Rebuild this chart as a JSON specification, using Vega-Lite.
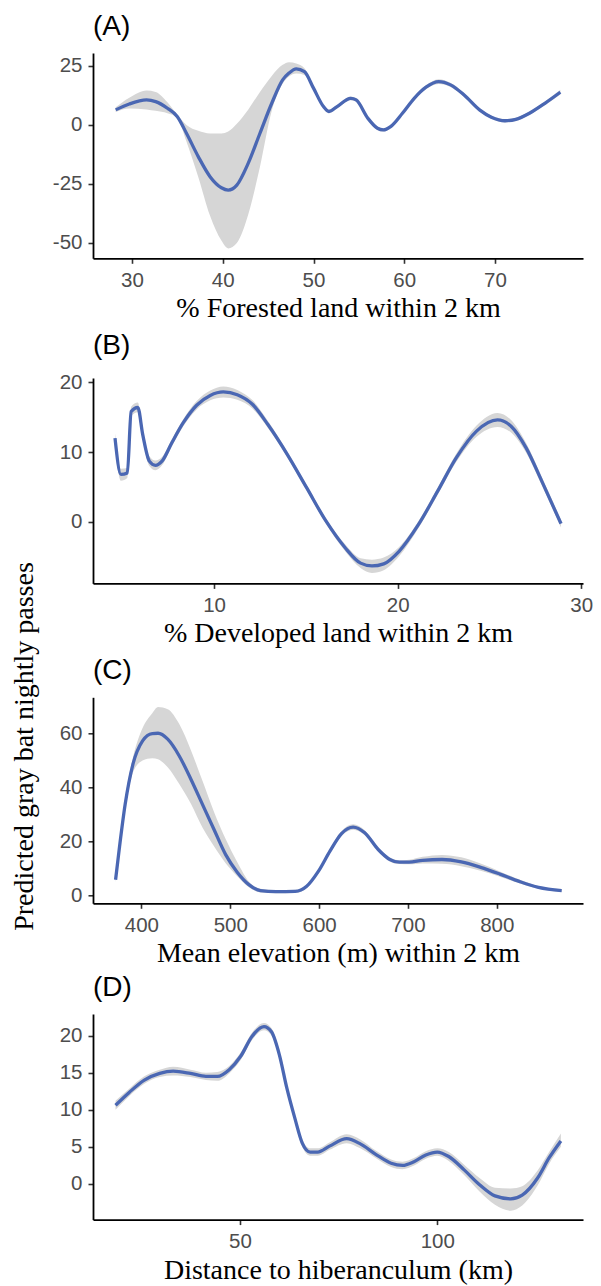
{
  "$schema": "https://vega.github.io/schema/vega-lite/v6.json",
  "background": "white",
  "padding": {"left": 10, "top": 13, "right": 5, "bottom": 5},
  "bounds": "flush",
  "spacing": 119,
  "config": {
    "view": {"stroke": null},
    "axis": {
      "grid": false,
      "domainColor": "black",
      "domainWidth": 1.8,
      "tickColor": "#333333",
      "tickWidth": 1.6,
      "tickSize": 5,
      "labelFont": "Liberation Sans",
      "labelFontSize": 20.5,
      "labelColor": "#4D4D4D",
      "labelFlush": false,
      "labelOverlap": false,
      "labelBound": false,
      "labelExpr": "'' + datum.value",
      "titleFont": "Liberation Serif",
      "titleFontSize": 28,
      "titleFontWeight": "normal",
      "titleColor": "black"
    },
    "axisX": {"labelPadding": 7, "titlePadding": 4},
    "axisY": {"labelPadding": 6},
    "title": {
      "anchor": "start",
      "frame": "group",
      "font": "Liberation Sans",
      "fontSize": 28,
      "fontWeight": "normal",
      "color": "black",
      "baseline": "bottom",
      "offset": 12
    }
  },
  "datasets": {
    "A": [
      {"x": 28.2, "fit": 6.4, "lo": 5.5, "hi": 7.5},
      {"x": 29.7, "fit": 8.9, "lo": 7.0, "hi": 11.5},
      {"x": 31.6, "fit": 10.6, "lo": 6.6, "hi": 14.6},
      {"x": 32.6, "fit": 9.9, "lo": 6.0, "hi": 14.0},
      {"x": 33.9, "fit": 7.1, "lo": 5.0, "hi": 9.6},
      {"x": 35.0, "fit": 3.5, "lo": 3.0, "hi": 4.2},
      {"x": 36.0, "fit": -3.5, "lo": -7.0, "hi": 0.0},
      {"x": 37.3, "fit": -13.4, "lo": -22.0, "hi": -2.5},
      {"x": 38.6, "fit": -21.9, "lo": -38.5, "hi": -3.6},
      {"x": 39.85, "fit": -26.6, "lo": -49.0, "hi": -3.6},
      {"x": 40.6, "fit": -27.6, "lo": -52.3, "hi": -2.8},
      {"x": 41.55, "fit": -25.5, "lo": -50.0, "hi": 0.5},
      {"x": 42.8, "fit": -16.3, "lo": -38.0, "hi": 6.5},
      {"x": 44.1, "fit": -3.5, "lo": -17.7, "hi": 14.0},
      {"x": 45.4, "fit": 9.2, "lo": 6.0, "hi": 20.8},
      {"x": 46.6, "fit": 19.1, "lo": 17.5, "hi": 25.5},
      {"x": 47.3, "fit": 22.0, "lo": 20.5, "hi": 26.6},
      {"x": 48.1, "fit": 23.8, "lo": 21.8, "hi": 26.0},
      {"x": 49.0, "fit": 22.6, "lo": 21.2, "hi": 24.0},
      {"x": 50.0, "fit": 15.6, "lo": 14.6, "hi": 16.6},
      {"x": 51.1, "fit": 7.8, "lo": 7.0, "hi": 8.6},
      {"x": 51.7, "fit": 5.7, "lo": 5.0, "hi": 6.5},
      {"x": 52.6, "fit": 7.8, "lo": 7.1, "hi": 8.5},
      {"x": 54.1, "fit": 11.3, "lo": 10.5, "hi": 12.1},
      {"x": 54.7, "fit": 10.6, "lo": 9.8, "hi": 11.4},
      {"x": 56.0, "fit": 2.8, "lo": 2.1, "hi": 3.5},
      {"x": 57.05, "fit": -1.4, "lo": -2.1, "hi": -0.7},
      {"x": 57.7, "fit": -2.1, "lo": -2.8, "hi": -1.4},
      {"x": 58.5, "fit": -0.7, "lo": -1.4, "hi": 0.0},
      {"x": 59.8, "fit": 4.95, "lo": 4.3, "hi": 5.6},
      {"x": 61.1, "fit": 11.3, "lo": 10.6, "hi": 12.0},
      {"x": 62.4, "fit": 16.0, "lo": 15.2, "hi": 16.8},
      {"x": 63.8, "fit": 18.4, "lo": 17.4, "hi": 19.4},
      {"x": 65.1, "fit": 17.0, "lo": 16.1, "hi": 17.9},
      {"x": 66.6, "fit": 12.7, "lo": 11.9, "hi": 13.5},
      {"x": 68.3, "fit": 6.4, "lo": 5.7, "hi": 7.1},
      {"x": 69.6, "fit": 3.3, "lo": 2.6, "hi": 4.0},
      {"x": 71.1, "fit": 1.8, "lo": 1.1, "hi": 2.5},
      {"x": 72.3, "fit": 2.4, "lo": 1.7, "hi": 3.1},
      {"x": 73.8, "fit": 5.0, "lo": 4.3, "hi": 5.7},
      {"x": 75.5, "fit": 9.2, "lo": 8.4, "hi": 10.0},
      {"x": 77.2, "fit": 13.9, "lo": 12.9, "hi": 14.9}
    ],
    "B": [
      {"x": 4.6, "fit": 12.0, "lo": 11.3, "hi": 12.7},
      {"x": 4.92, "fit": 6.8, "lo": 5.9, "hi": 7.6},
      {"x": 5.27, "fit": 7.0, "lo": 6.3, "hi": 7.7},
      {"x": 5.48, "fit": 15.8, "lo": 15.1, "hi": 16.5},
      {"x": 5.84, "fit": 16.4, "lo": 15.7, "hi": 17.1},
      {"x": 6.11, "fit": 12.5, "lo": 11.8, "hi": 13.2},
      {"x": 6.47, "fit": 8.7, "lo": 8.0, "hi": 9.4},
      {"x": 6.8, "fit": 8.1, "lo": 7.4, "hi": 8.8},
      {"x": 7.16, "fit": 8.7, "lo": 8.1, "hi": 9.3},
      {"x": 7.69, "fit": 11.3, "lo": 10.8, "hi": 11.8},
      {"x": 8.32, "fit": 14.2, "lo": 13.7, "hi": 14.7},
      {"x": 9.05, "fit": 16.7, "lo": 16.1, "hi": 17.3},
      {"x": 9.79, "fit": 18.1, "lo": 17.4, "hi": 18.8},
      {"x": 10.5, "fit": 18.6, "lo": 17.8, "hi": 19.4},
      {"x": 11.26, "fit": 18.2, "lo": 17.5, "hi": 18.9},
      {"x": 12.1, "fit": 16.8, "lo": 16.2, "hi": 17.4},
      {"x": 12.94, "fit": 13.9, "lo": 13.4, "hi": 14.4},
      {"x": 14.0, "fit": 9.6, "lo": 9.2, "hi": 10.0},
      {"x": 15.04, "fit": 4.9, "lo": 4.5, "hi": 5.3},
      {"x": 16.1, "fit": 0.1, "lo": -0.3, "hi": 0.5},
      {"x": 17.14, "fit": -3.7, "lo": -4.2, "hi": -3.2},
      {"x": 17.98, "fit": -5.9, "lo": -6.6, "hi": -5.2},
      {"x": 18.6, "fit": -6.3, "lo": -7.3, "hi": -5.4},
      {"x": 19.24, "fit": -6.0, "lo": -6.9, "hi": -5.1},
      {"x": 20.08, "fit": -4.2, "lo": -4.9, "hi": -3.6},
      {"x": 21.13, "fit": -0.4, "lo": -0.9, "hi": 0.1},
      {"x": 22.18, "fit": 4.4, "lo": 3.9, "hi": 4.9},
      {"x": 23.2, "fit": 9.2, "lo": 8.6, "hi": 9.8},
      {"x": 24.3, "fit": 13.0, "lo": 12.2, "hi": 13.8},
      {"x": 25.44, "fit": 14.6, "lo": 13.6, "hi": 15.6},
      {"x": 26.18, "fit": 13.7, "lo": 12.8, "hi": 14.6},
      {"x": 27.0, "fit": 10.6, "lo": 9.9, "hi": 11.3},
      {"x": 27.86, "fit": 5.8, "lo": 5.2, "hi": 6.4},
      {"x": 28.9, "fit": -0.24, "lo": -0.8, "hi": 0.3}
    ],
    "C": [
      {"x": 370.9, "fit": 5.9, "lo": 5.0, "hi": 6.8},
      {"x": 375.2, "fit": 17.7, "lo": 16.5, "hi": 19.0},
      {"x": 381.7, "fit": 33.8, "lo": 32.0, "hi": 36.0},
      {"x": 390.4, "fit": 48.6, "lo": 45.5, "hi": 51.0},
      {"x": 401.3, "fit": 57.3, "lo": 50.0, "hi": 62.0},
      {"x": 412.2, "fit": 60.0, "lo": 50.9, "hi": 67.5},
      {"x": 418.7, "fit": 60.1, "lo": 50.5, "hi": 69.8},
      {"x": 429.6, "fit": 57.9, "lo": 47.5, "hi": 69.0},
      {"x": 442.6, "fit": 51.7, "lo": 41.3, "hi": 63.5},
      {"x": 455.7, "fit": 43.1, "lo": 34.0, "hi": 53.8},
      {"x": 468.7, "fit": 33.8, "lo": 25.2, "hi": 42.5},
      {"x": 481.7, "fit": 24.5, "lo": 18.3, "hi": 31.0},
      {"x": 494.8, "fit": 15.2, "lo": 12.0, "hi": 21.0},
      {"x": 507.8, "fit": 8.7, "lo": 7.2, "hi": 12.5},
      {"x": 520.9, "fit": 4.1, "lo": 3.1, "hi": 5.3},
      {"x": 533.9, "fit": 1.9, "lo": 1.2, "hi": 2.6},
      {"x": 551.3, "fit": 1.5, "lo": 0.9, "hi": 2.1},
      {"x": 573.0, "fit": 1.6, "lo": 1.0, "hi": 2.2},
      {"x": 586.0, "fit": 3.5, "lo": 2.9, "hi": 4.1},
      {"x": 599.1, "fit": 9.0, "lo": 8.3, "hi": 9.7},
      {"x": 612.2, "fit": 16.5, "lo": 15.7, "hi": 17.3},
      {"x": 625.2, "fit": 23.0, "lo": 22.1, "hi": 23.9},
      {"x": 638.3, "fit": 25.4, "lo": 24.4, "hi": 26.4},
      {"x": 651.3, "fit": 23.3, "lo": 22.4, "hi": 24.2},
      {"x": 666.5, "fit": 17.1, "lo": 16.4, "hi": 17.8},
      {"x": 679.6, "fit": 13.4, "lo": 12.7, "hi": 14.1},
      {"x": 690.4, "fit": 12.4, "lo": 11.7, "hi": 13.1},
      {"x": 701.3, "fit": 12.4, "lo": 11.6, "hi": 13.3},
      {"x": 716.5, "fit": 13.1, "lo": 11.9, "hi": 14.4},
      {"x": 738.3, "fit": 13.4, "lo": 11.8, "hi": 15.1},
      {"x": 760.0, "fit": 12.5, "lo": 10.9, "hi": 14.2},
      {"x": 781.7, "fit": 10.5, "lo": 9.2, "hi": 11.9},
      {"x": 803.5, "fit": 8.0, "lo": 7.0, "hi": 9.0},
      {"x": 825.2, "fit": 5.3, "lo": 4.6, "hi": 6.0},
      {"x": 846.9, "fit": 3.1, "lo": 2.6, "hi": 3.6},
      {"x": 873.0, "fit": 1.9, "lo": 1.4, "hi": 2.4}
    ],
    "D": [
      {"x": 18.5, "fit": 10.6, "lo": 10.0, "hi": 11.2},
      {"x": 21.9, "fit": 12.3, "lo": 11.8, "hi": 12.8},
      {"x": 25.8, "fit": 14.0, "lo": 13.5, "hi": 14.5},
      {"x": 29.7, "fit": 14.9, "lo": 14.4, "hi": 15.4},
      {"x": 33.1, "fit": 15.2, "lo": 14.6, "hi": 15.8},
      {"x": 37.5, "fit": 14.9, "lo": 14.4, "hi": 15.4},
      {"x": 41.4, "fit": 14.5, "lo": 14.0, "hi": 15.0},
      {"x": 44.3, "fit": 14.5, "lo": 13.9, "hi": 15.1},
      {"x": 47.3, "fit": 15.4, "lo": 14.9, "hi": 15.9},
      {"x": 50.2, "fit": 17.2, "lo": 16.7, "hi": 17.7},
      {"x": 53.1, "fit": 19.9, "lo": 19.4, "hi": 20.4},
      {"x": 56.1, "fit": 21.2, "lo": 20.7, "hi": 21.7},
      {"x": 58.0, "fit": 20.5, "lo": 20.0, "hi": 21.0},
      {"x": 60.0, "fit": 17.4, "lo": 16.9, "hi": 17.9},
      {"x": 61.9, "fit": 12.9, "lo": 12.4, "hi": 13.4},
      {"x": 63.9, "fit": 8.9, "lo": 8.4, "hi": 9.4},
      {"x": 65.8, "fit": 5.5, "lo": 5.0, "hi": 6.0},
      {"x": 67.8, "fit": 4.3, "lo": 3.8, "hi": 4.8},
      {"x": 69.7, "fit": 4.3, "lo": 3.8, "hi": 4.8},
      {"x": 72.7, "fit": 5.1, "lo": 4.6, "hi": 5.6},
      {"x": 77.05, "fit": 6.1, "lo": 5.5, "hi": 6.7},
      {"x": 80.5, "fit": 5.4, "lo": 4.8, "hi": 6.0},
      {"x": 84.4, "fit": 4.0, "lo": 3.5, "hi": 4.5},
      {"x": 88.3, "fit": 2.8, "lo": 2.3, "hi": 3.3},
      {"x": 91.2, "fit": 2.5, "lo": 2.0, "hi": 3.0},
      {"x": 94.1, "fit": 3.0, "lo": 2.5, "hi": 3.5},
      {"x": 97.1, "fit": 3.9, "lo": 3.4, "hi": 4.4},
      {"x": 100.0, "fit": 4.3, "lo": 3.8, "hi": 4.8},
      {"x": 102.9, "fit": 3.7, "lo": 3.1, "hi": 4.3},
      {"x": 106.8, "fit": 1.9, "lo": 1.2, "hi": 2.6},
      {"x": 110.7, "fit": -0.1, "lo": -1.0, "hi": 0.8},
      {"x": 114.6, "fit": -1.6, "lo": -2.8, "hi": -0.5},
      {"x": 118.6, "fit": -2.0, "lo": -3.6, "hi": -0.6},
      {"x": 121.5, "fit": -1.5, "lo": -2.9, "hi": -0.3},
      {"x": 125.4, "fit": 0.8, "lo": -0.2, "hi": 1.8},
      {"x": 128.3, "fit": 3.5, "lo": 2.7, "hi": 4.3},
      {"x": 131.3, "fit": 5.8, "lo": 5.0, "hi": 6.8}
    ]
  },
  "vconcat": [
    {
      "title": "(A)",
      "width": 490,
      "height": 205.3,
      "data": {"name": "A"},
      "encoding": {
        "x": {"field": "x", "type": "quantitative", "scale": {"domain": [25.7, 79.7], "nice": false, "zero": false}, "axis": {"title": "% Forested land within 2 km", "values": [30, 40, 50, 60, 70]}}
      },
      "layer": [
        {"mark": {"type": "area", "color": "#D6D6D6", "opacity": 1, "interpolate": "monotone"},
         "encoding": {"y": {"field": "lo", "type": "quantitative", "scale": {"domain": [-56.5, 30.5], "nice": false, "zero": false}, "axis": {"title": null, "values": [-50, -25, 0, 25]}}, "y2": {"field": "hi"}}},
        {"mark": {"type": "line", "color": "#4A67B3", "strokeWidth": 3.3, "interpolate": "monotone"},
         "encoding": {"y": {"field": "fit", "type": "quantitative", "axis": {"title": null, "values": [-50, -25, 0, 25]}}}}
      ]
    },
    {
      "bounds": "flush",
      "spacing": 113.3,
      "vconcat": [
        {
          "title": "(B)",
          "width": 490,
          "height": 205.4,
          "data": {"name": "B"},
          "encoding": {
            "x": {"field": "x", "type": "quantitative", "scale": {"domain": [3.4, 30.1], "nice": false, "zero": false}, "axis": {"title": "% Developed land within 2 km", "values": [10, 20, 30]}}
          },
          "layer": [
            {"mark": {"type": "area", "color": "#D6D6D6", "opacity": 1, "interpolate": "monotone"},
             "encoding": {"y": {"field": "lo", "type": "quantitative", "scale": {"domain": [-8.8, 20.6], "nice": false, "zero": false}, "axis": {"title": "Predicted gray bat nightly passes", "values": [0, 10, 20], "titleX": -61, "titleY": 368, "titleAlign": "center", "titleBaseline": "alphabetic", "titleAngle": 270}}, "y2": {"field": "hi"}}},
            {"mark": {"type": "line", "color": "#4A67B3", "strokeWidth": 3.3, "interpolate": "monotone"},
             "encoding": {"y": {"field": "fit", "type": "quantitative", "axis": {"title": "Predicted gray bat nightly passes", "values": [0, 10, 20], "titleX": -61, "titleY": 368, "titleAlign": "center", "titleBaseline": "alphabetic", "titleAngle": 270}}}}
          ]
        },
        {
          "bounds": "flush",
          "spacing": 110.7,
          "vconcat": [
            {
              "title": "(C)",
              "width": 490,
              "height": 206,
              "data": {"name": "C"},
              "encoding": {
                "x": {"field": "x", "type": "quantitative", "scale": {"domain": [345.5, 897], "nice": false, "zero": false}, "axis": {"title": "Mean elevation (m) within 2 km", "values": [400, 500, 600, 700, 800]}}
              },
              "layer": [
                {"mark": {"type": "area", "color": "#D6D6D6", "opacity": 1, "interpolate": "monotone"},
                 "encoding": {"y": {"field": "lo", "type": "quantitative", "scale": {"domain": [-2.8, 73.4], "nice": false, "zero": false}, "axis": {"title": null, "values": [0, 20, 40, 60]}}, "y2": {"field": "hi"}}},
                {"mark": {"type": "line", "color": "#4A67B3", "strokeWidth": 3.3, "interpolate": "monotone"},
                 "encoding": {"y": {"field": "fit", "type": "quantitative", "axis": {"title": null, "values": [0, 20, 40, 60]}}}}
              ]
            },
            {
              "title": "(D)",
              "width": 490,
              "height": 205.6,
              "data": {"name": "D"},
              "encoding": {
                "x": {"field": "x", "type": "quantitative", "scale": {"domain": [12.8, 136.9], "nice": false, "zero": false}, "axis": {"title": "Distance to hiberanculum (km)", "values": [50, 100]}}
              },
              "layer": [
                {"mark": {"type": "area", "color": "#D6D6D6", "opacity": 1, "interpolate": "monotone"},
                 "encoding": {"y": {"field": "lo", "type": "quantitative", "scale": {"domain": [-4.8, 22.9], "nice": false, "zero": false}, "axis": {"title": null, "values": [0, 5, 10, 15, 20]}}, "y2": {"field": "hi"}}},
                {"mark": {"type": "line", "color": "#4A67B3", "strokeWidth": 3.3, "interpolate": "monotone"},
                 "encoding": {"y": {"field": "fit", "type": "quantitative", "axis": {"title": null, "values": [0, 5, 10, 15, 20]}}}}
              ]
            }
          ]
        }
      ]
    }
  ]
}
